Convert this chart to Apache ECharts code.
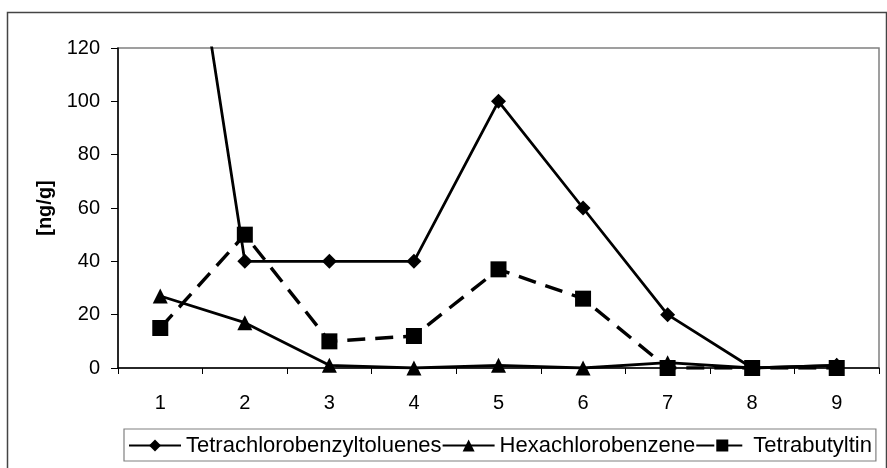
<!DOCTYPE html>
<html>
<head>
<meta charset="utf-8">
<script src="https://cdn.jsdelivr.net/npm/echarts@6/dist/echarts.min.js"></script>
<style>
  html, body { margin: 0; padding: 0; background: #fff; }
  #chart { width: 887px; height: 468px; }
</style>
</head>
<body>
<div id="chart"></div>
<script>
// Sampling sites along the x axis
const categories = ['1', '2', '3', '4', '5', '6', '7', '8', '9'];

// Concentrations in ng/g
const tetrachlorobenzyltoluenes = [245, 40, 40, 40, 100, 60, 20, 0, 1];
const hexachlorobenzene = [27, 17, 1, 0, 1, 0, 2, 0, 1];
const tetrabutyltin = [15, 50, 10, 12, 37, 26, 0, 0, 0];

const seriesNames = ['Tetrachlorobenzyltoluenes', 'Hexachlorobenzene', 'Tetrabutyltin'];

const FONT = '"Liberation Sans", Arial, sans-serif';

const chart = echarts.init(document.getElementById('chart'), null, { renderer: 'canvas' });

chart.setOption({
  animation: false,
  backgroundColor: '#fff',
  graphic: [{
    type: 'rect',
    shape: { x: 7.5, y: 12.5, width: 879, height: 470 },
    style: { fill: 'none', stroke: '#444', lineWidth: 1.5 },
    silent: true,
    z: -10
  }],
  grid: {
    left: 118, right: 8, top: 48, bottom: 100,
    show: true,
    borderColor: '#808080',
    borderWidth: 1.5,
    containLabel: false
  },
  legend: {
    data: seriesNames,
    left: 124,
    top: 429,
    orient: 'horizontal',
    itemGap: 0,
    itemWidth: 52,
    itemHeight: 15,
    padding: [4, 4, 3, 4],
    borderColor: '#808080',
    borderWidth: 1.2,
    textStyle: { fontFamily: FONT, fontSize: 22, color: '#000', lineHeight: 25 },
    selectedMode: false
  },
  xAxis: {
    type: 'category',
    data: categories,
    boundaryGap: true,
    axisLine: { show: true, lineStyle: { color: '#000', width: 1.5 } },
    axisTick: { show: true, length: 6, inside: false, alignWithLabel: false, lineStyle: { color: '#000', width: 1 } },
    axisLabel: { margin: 25, fontFamily: FONT, fontSize: 20, color: '#000' },
    splitLine: { show: false }
  },
  yAxis: {
    type: 'value',
    min: 0,
    max: 120,
    interval: 20,
    name: '[ng/g]',
    nameLocation: 'middle',
    nameGap: 63,
    nameTextStyle: { fontFamily: FONT, fontSize: 20, fontWeight: 'bold', color: '#000' },
    axisLine: { show: true, lineStyle: { color: '#000', width: 1.5 } },
    axisTick: { show: true, length: 7, inside: false, lineStyle: { color: '#000', width: 1 } },
    axisLabel: { margin: 18, fontFamily: FONT, fontSize: 20, color: '#000' },
    splitLine: { show: false }
  },
  series: [
    {
      name: seriesNames[0],
      type: 'line',
      data: tetrachlorobenzyltoluenes,
      symbol: 'diamond',
      symbolSize: 15,
      clip: true,
      itemStyle: { color: '#000' },
      lineStyle: { color: '#000', width: 2.8, type: 'solid' },
      z: 3
    },
    {
      name: seriesNames[1],
      type: 'line',
      data: hexachlorobenzene,
      symbol: 'triangle',
      symbolSize: 15,
      clip: true,
      itemStyle: { color: '#000' },
      lineStyle: { color: '#000', width: 2.8, type: 'solid' },
      z: 2
    },
    {
      name: seriesNames[2],
      type: 'line',
      data: tetrabutyltin,
      symbol: 'rect',
      symbolSize: 16,
      clip: true,
      itemStyle: { color: '#000' },
      lineStyle: { color: '#000', width: 3.4, type: [18, 10] },
      z: 4
    }
  ]
});
</script>
</body>
</html>
